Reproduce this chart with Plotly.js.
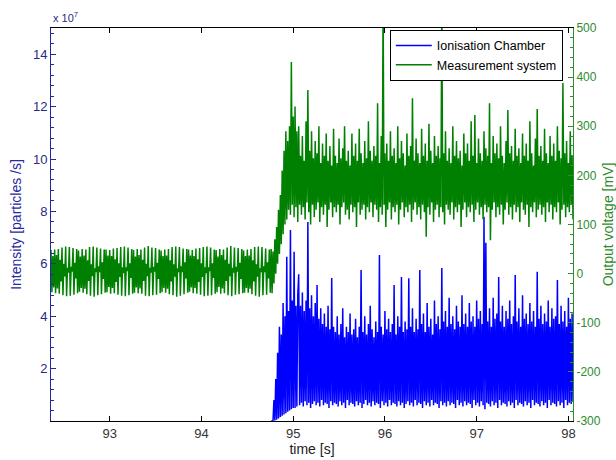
<!DOCTYPE html>
<html>
<head>
<meta charset="utf-8">
<script src="https://cdn.plot.ly/plotly-3.0.1.min.js"></script>
<style>html,body{margin:0;padding:0;background:#fff;}#chart{width:616px;height:460px;}</style>
</head>
<body>
<div id="chart"></div>
<script>
// sampling grid (s)
const timeStart = 92.36;
const timeStep = 0.01;
const intensityStart = 94.76;

// Measurement system output voltage [mV], one sample per timeStep from timeStart
const voltageBefore_mV = [
  48,-38,36,-28,49,-40,38,-30,50,-41,28,-16,53,-44,20,-6,55,-46,12,2,54,-45,14,4,52,-43,22,-10,50,-40,
  47,-37,35,-29,50,-39,37,-31,49,-42,27,-15,54,-45,19,-5,55,-47,11,3,53,-44,15,3,51,-42,23,-11,49,-39,
  49,-38,37,-27,48,-41,36,-29,51,-40,29,-17,52,-43,21,-7,54,-45,13,1,55,-46,13,5,53,-44,21,-9,50,-41,
  48,-39,35,-28,50,-40,38,-30,49,-41,28,-15,53,-45,20,-5,56,-46,12,2,53,-44,14,4,52,-43,22,-11,49,-40,
  47,-38,36,-29,49,-39,37,-31,50,-42,27,-16,54,-44,19,-6,55,-47,11,3,54,-45,15,3,51,-42,23,-10,50,-39,
  49,-37,37,-28,48,-40,36,-29,51,-41,29,-17,52,-43,21,-7,54,-46,13,1,55,-45,13,5,53,-44,21,-9,49,-41,
  48,-38,35,-27,50,-41,38,-30,49,-40,28,-15,53,-44,20,-5,56,-46,12,2,53,-43,14,4,52,-42,22,-11,50,-40,
  47,-39,36,-29,49,-39,37,-31,50,-42,27,-16,54,-45,19,-6,55,-47,11,3,54,-44,15,3,51,-43,23,-10,49,-39
];
const voltageRise_mV = [
  50,-40,45,-20,70,0,95,20,130,40,160,60,210,80,250,100,290,110,270,130,300,120,431,140,320,115,340,135,290,105
];
const voltageBeam_mV = [
  300,140, 240,120, 280,135, 230,110, 310,145, 374,125, 250,100, 290,140, 235,115, 270,130,
  245,145, 300,105, 225,135, 265,120, 240,140, 285,95, 230,130, 260,145, 220,115, 295,135,
  240,125, 225,140, 275,100, 235,135, 255,145, 300,120, 230,130, 250,110, 220,140, 285,125,
  240,135, 265,95, 230,145, 295,120, 245,130, 225,140, 270,110, 235,135, 310,125, 250,145,
  230,115, 260,140, 240,130, 347,105, 225,135, 280,120, 560,140, 245,95, 265,130, 230,145,
  290,110, 240,135, 255,125, 225,140, 300,100, 235,130, 270,145, 245,115, 220,135, 285,125,
  240,140, 260,105, 357,130, 230,145, 275,120, 245,135, 225,110, 295,140, 240,125, 265,75,
  230,135, 305,120, 250,145, 225,105, 280,130, 240,140, 260,115, 235,135, 560,125, 245,100,
  290,140, 230,130, 255,120, 225,145, 300,110, 240,135, 270,125, 235,140, 250,95, 220,130,
  285,145, 245,115, 265,135, 230,125, 310,140, 240,105, 323,130, 225,145, 275,120, 245,135,
  230,110, 290,140, 255,125, 240,135, 347,68, 225,130, 280,145, 245,115, 265,135, 235,120,
  300,140, 240,100, 225,130, 270,145, 333,120, 245,135, 260,110, 230,140, 295,125, 240,135,
  255,105, 225,145, 285,130, 240,120, 265,140, 230,95, 310,135, 245,125, 220,145, 275,115,
  335,130, 240,140, 260,120, 230,135, 295,105, 245,145, 225,125, 280,140, 240,110, 265,135,
  230,125, 300,145, 250,100, 235,130, 388,140, 245,115, 270,135, 225,125, 290,140, 240,110
];

// Ionisation chamber intensity [x 1e7 particles/s], one sample per timeStep from intensityStart
const intensityRise_e7 = [
  0,0,0,0.8,0.02,1.6,0.05,2.6,0.1,3.6,0.15,3.3,0.2,4.5,0.25,4.0,0.3,6.27,0.35,4.2,0.4,7.29,0.45,4.6,0.5,6.46,0.5,4.4,0.55,4.8
];
const intensityBeam_e7 = [
  5.6,0.6, 4.4,0.7, 4.9,0.55, 4.2,0.75, 4.6,0.6, 7.6,0.7, 4.3,0.5, 4.8,0.65, 4.0,0.75, 4.5,0.6,
  5.19,0.7, 3.9,0.55, 4.3,0.8, 3.7,0.6, 4.1,0.7, 3.6,0.65, 4.4,0.5, 3.5,0.75, 5.46,0.6, 3.6,0.7,
  3.4,0.65, 4.0,0.55, 3.3,0.75, 3.7,0.6, 4.3,0.7, 3.2,0.5, 3.6,0.8, 3.4,0.6, 4.1,0.7, 3.3,0.65,
  3.5,0.55, 3.9,0.75, 3.2,0.6, 3.6,0.7, 5.76,0.5, 3.4,0.65, 4.0,0.8, 3.3,0.6, 3.7,0.7, 4.4,0.55,
  3.5,0.75, 3.2,0.6, 3.8,0.7, 3.4,0.65, 6.34,0.5, 3.6,0.75, 3.3,0.6, 4.2,0.7, 3.5,0.55, 3.9,0.8,
  3.4,0.6, 3.7,0.7, 5.19,0.65, 3.3,0.55, 4.0,0.75, 3.6,0.6, 5.5,0.7, 3.4,0.5, 3.8,0.65, 3.5,0.75,
  5.45,0.6, 3.6,0.7, 4.3,0.55, 3.4,0.8, 3.9,0.6, 3.5,0.7, 5.76,0.65, 3.7,0.5, 4.1,0.75, 3.4,0.6,
  4.5,0.7, 3.6,0.55, 3.9,0.8, 3.3,0.6, 4.6,0.7, 3.7,0.65, 4.0,0.5, 3.5,0.75, 5.84,0.6, 3.8,0.7,
  4.2,0.55, 3.6,0.75, 4.7,0.6, 3.7,0.7, 4.0,0.65, 3.5,0.5, 4.4,0.8, 3.8,0.6, 3.6,0.7, 4.8,0.55,
  3.7,0.75, 4.1,0.6, 3.6,0.7, 4.5,0.65, 3.8,0.5, 4.0,0.8, 3.6,0.6, 4.6,0.7, 3.9,0.55, 4.2,0.75,
  3.7,0.6, 7.8,0.45, 6.8,0.7, 3.8,0.65, 4.3,0.55, 3.6,0.75, 4.7,0.6, 3.9,0.7, 4.1,0.5, 5.5,0.8,
  3.8,0.6, 4.4,0.7, 3.6,0.65, 4.2,0.55, 3.9,0.75, 4.6,0.6, 3.7,0.7, 4.0,0.5, 5.57,0.8, 3.8,0.6,
  4.3,0.7, 3.6,0.65, 4.8,0.55, 3.9,0.75, 4.1,0.6, 3.7,0.7, 4.5,0.5, 3.8,0.8, 4.2,0.6, 3.6,0.7,
  5.7,0.65, 3.9,0.55, 4.4,0.75, 3.7,0.6, 4.1,0.7, 3.8,0.5, 4.6,0.8, 3.6,0.6, 4.3,0.7, 3.9,0.65,
  4.0,0.55, 5.38,0.75, 3.7,0.6, 4.4,0.7, 3.8,0.5, 4.2,0.8, 3.6,0.6, 4.7,0.7, 3.9,0.65, 4.1,0.75
];

const xTickVals = [93, 94, 95, 96, 97, 98];
const yLeftTicks = [2, 4, 6, 8, 10, 12, 14];
const yRightTicks = [-300, -200, -100, 0, 100, 200, 300, 400, 500];

const voltage_mV = voltageBefore_mV.concat(voltageRise_mV, voltageBeam_mV);
const intensity_e7 = intensityRise_e7.concat(intensityBeam_e7);
const timeV = voltage_mV.map((_, i) => +(timeStart + i * timeStep).toFixed(4));
const timeI = intensity_e7.map((_, i) => +(intensityStart + i * timeStep).toFixed(4));

const fontFam = 'Liberation Sans, Arial, sans-serif';
const blueAxis = '#28289a';
const greenAxis = '#2e8b2e';

const traces = [
  {
    x: timeI, y: intensity_e7, type: 'scatter', mode: 'lines',
    name: 'Ionisation Chamber', yaxis: 'y',
    line: {color: '#0000ff', width: 1.5, simplify: false}
  },
  {
    x: timeV, y: voltage_mV, type: 'scatter', mode: 'lines',
    name: 'Measurement system', yaxis: 'y2',
    line: {color: '#008000', width: 1.5, simplify: false}
  }
];

const layout = {
  width: 616, height: 460,
  margin: {l: 51, r: 43, t: 28, b: 39, pad: 0},
  paper_bgcolor: '#ffffff', plot_bgcolor: '#ffffff',
  font: {family: fontFam, size: 13, color: '#333333'},
  showlegend: true,
  legend: {
    x: 0.649, y: 0.995, xanchor: 'left', yanchor: 'top',
    bgcolor: '#ffffff', bordercolor: '#000000', borderwidth: 1,
    font: {family: fontFam, size: 12.5, color: '#000000'},
    tracegroupgap: 0, itemwidth: 36
  },
  xaxis: {
    range: [92.36, 98.05], tickvals: xTickVals, ticktext: xTickVals.map(String),
    ticks: 'inside', ticklen: 5, tickcolor: '#000000',
    showline: true, linecolor: '#000000', linewidth: 1, mirror: 'ticks',
    showgrid: false, zeroline: false,
    tickfont: {family: fontFam, size: 13, color: '#333333'},
    title: {text: 'time [s]', font: {family: fontFam, size: 14, color: '#222222'}, standoff: 4}
  },
  yaxis: {
    range: [0, 15], tickvals: yLeftTicks, ticktext: yLeftTicks.map(String),
    ticks: 'inside', ticklen: 5, tickcolor: blueAxis,
    minor: {dtick: 0.4, ticks: 'inside', ticklen: 3, tickcolor: blueAxis, showgrid: false},
    showline: true, linecolor: blueAxis, linewidth: 1,
    showgrid: false, zeroline: false,
    tickfont: {family: fontFam, size: 13, color: '#2a2a80'},
    title: {text: 'Intensity [particles /s]', font: {family: fontFam, size: 14, color: '#2a2aa0'}, standoff: 8}
  },
  yaxis2: {
    range: [-300, 500], tickvals: yRightTicks, ticktext: yRightTicks.map(String),
    overlaying: 'y', side: 'right',
    ticks: 'inside', ticklen: 5, tickcolor: greenAxis,
    minor: {dtick: 20, ticks: 'inside', ticklen: 3, tickcolor: greenAxis, showgrid: false},
    showline: true, linecolor: greenAxis, linewidth: 1,
    showgrid: false, zeroline: false,
    tickfont: {family: fontFam, size: 12, color: greenAxis},
    title: {text: 'Output voltage [mV]', font: {family: fontFam, size: 14, color: greenAxis}, standoff: 4}
  },
  annotations: [{
    xref: 'paper', yref: 'paper', x: 0, y: 1, xanchor: 'left', yanchor: 'bottom',
    yshift: 2, showarrow: false,
    text: 'x 10<sup>7</sup>', font: {family: fontFam, size: 11, color: '#2a2a80'}
  }]
};

Plotly.newPlot('chart', traces, layout, {displayModeBar: false, staticPlot: true});
</script>
</body>
</html>
